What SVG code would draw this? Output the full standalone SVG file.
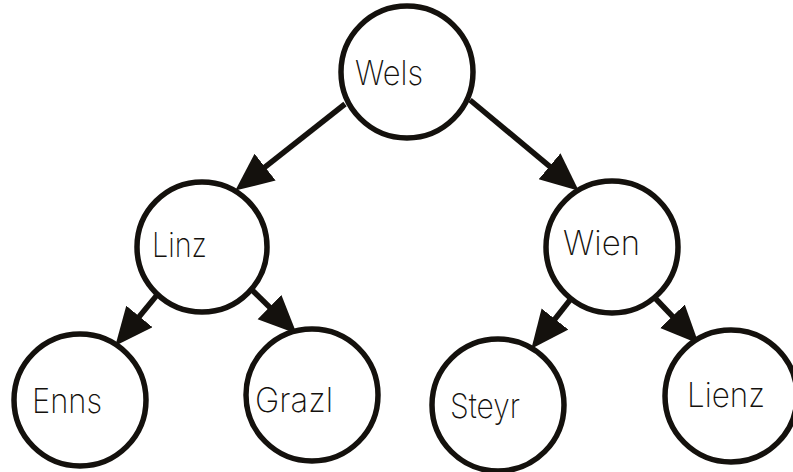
<svg xmlns="http://www.w3.org/2000/svg" width="793" height="472" viewBox="0 0 793 472">
<defs>
<style>
.node circle{fill:#fff;stroke:#14110d;stroke-width:5.5}
.node text{font-family:Inter,"DejaVu Sans",sans-serif;font-weight:200;font-size:34px;fill:#14110d}
.edges line{stroke:#14110d;stroke-width:5.5;marker-end:url(#ah)}
</style>
<marker id="ah" markerUnits="userSpaceOnUse" markerWidth="42" markerHeight="36" refX="27" refY="17" orient="auto">
<path d="M0,0 L38,17 L0,34 z" fill="#14110d"/>
</marker>
</defs>
<rect width="793" height="472" fill="#fff"/>
<g class="edges">
<line x1="345" y1="104" x2="243.9" y2="183.8"/>
<line x1="470" y1="100" x2="570.3" y2="183.6"/>
<line x1="157" y1="295" x2="122.3" y2="337.3"/>
<line x1="252" y1="290" x2="288.8" y2="326"/>
<line x1="570" y1="300" x2="538.2" y2="340.2"/>
<line x1="655" y1="298" x2="691.1" y2="335.8"/>
</g>
<g id="wels" class="node"><circle cx="407" cy="72" r="66"/><text x="355" y="85" textLength="68" lengthAdjust="spacingAndGlyphs">Wels</text></g>
<g id="linz" class="node"><circle cx="202" cy="247" r="65"/><text x="152" y="257" textLength="55" lengthAdjust="spacingAndGlyphs">Linz</text></g>
<g id="wien" class="node"><circle cx="612" cy="247" r="66"/><text x="563" y="255" textLength="77" lengthAdjust="spacingAndGlyphs">Wien</text></g>
<g id="enns" class="node"><circle cx="80" cy="400" r="66"/><text x="32" y="413" textLength="70" lengthAdjust="spacingAndGlyphs">Enns</text></g>
<g id="grazl" class="node"><circle cx="312" cy="395" r="66"/><text x="255" y="412" textLength="78" lengthAdjust="spacingAndGlyphs">Grazl</text></g>
<g id="steyr" class="node"><circle cx="498" cy="405" r="66"/><text x="450" y="418" textLength="70" lengthAdjust="spacingAndGlyphs">Steyr</text></g>
<g id="lienz" class="node"><circle cx="731" cy="396" r="66"/><text x="687" y="407" textLength="78" lengthAdjust="spacingAndGlyphs">Lienz</text></g>
</svg>
